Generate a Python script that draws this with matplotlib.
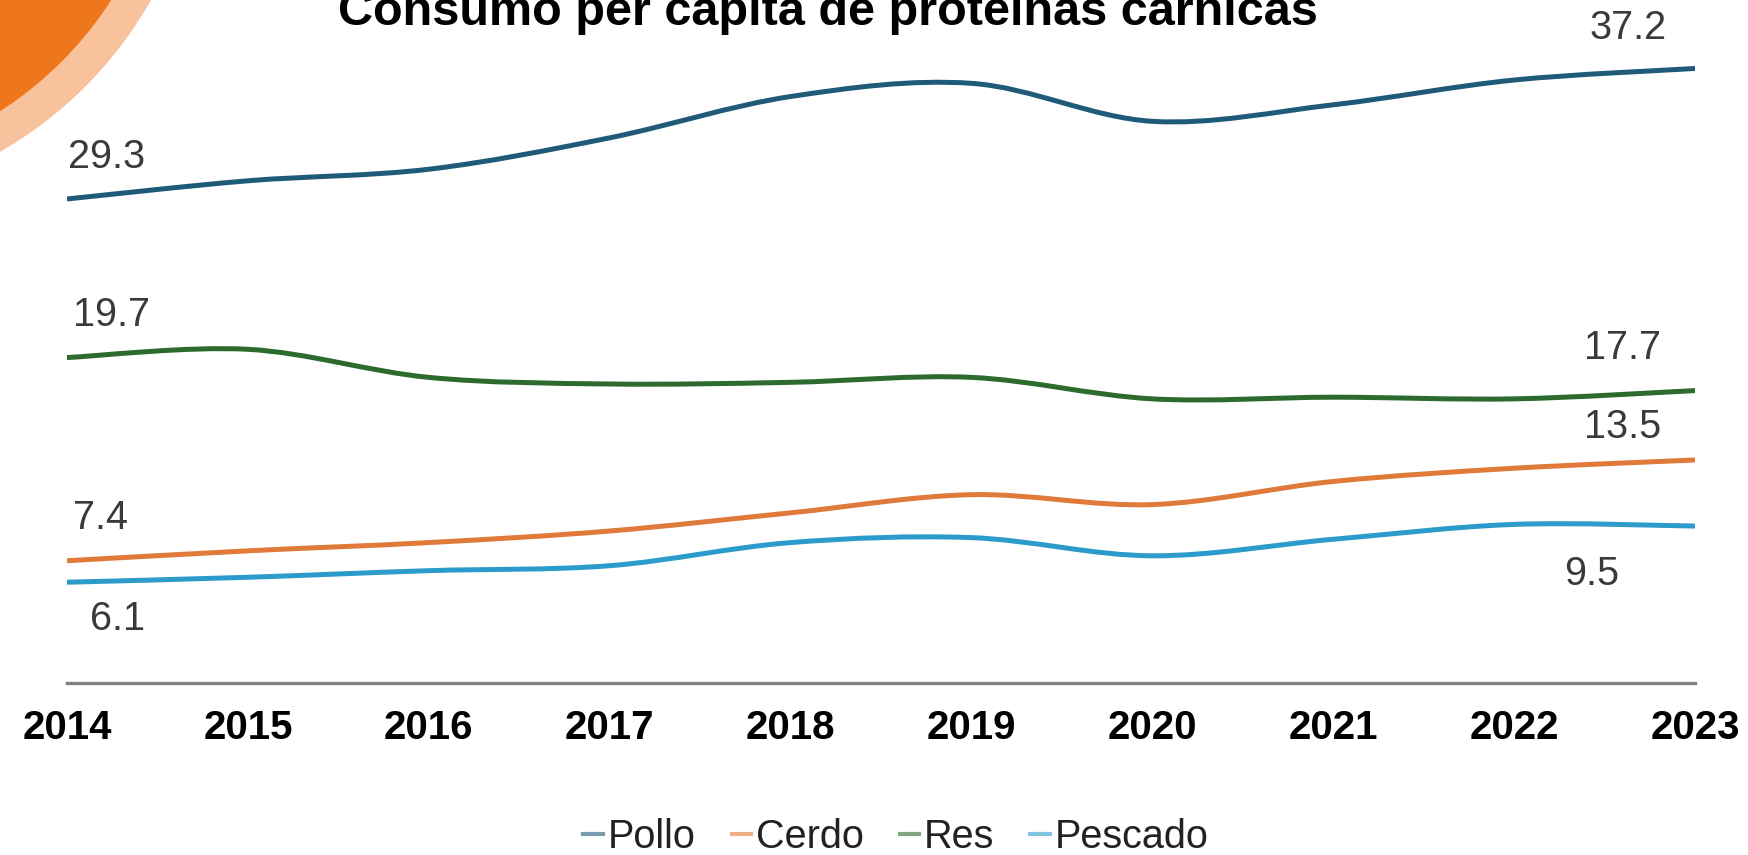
import numpy as np
import matplotlib
matplotlib.use('Agg')
import matplotlib.pyplot as plt
from matplotlib.path import Path
from matplotlib.patches import PathPatch, Ellipse
from matplotlib.lines import Line2D

#%% Data

years    = [2014, 2015, 2016, 2017, 2018, 2019, 2020, 2021, 2022, 2023]
pollo    = [29.3, 30.4, 31.1, 33.0, 35.5, 36.3, 34.0, 35.0, 36.5, 37.2]
cerdo    = [7.4, 8.0, 8.5, 9.2, 10.3, 11.4, 10.8, 12.2, 13.0, 13.5]
res      = [19.7, 20.2, 18.5, 18.1, 18.2, 18.5, 17.2, 17.3, 17.2, 17.7]
pescado  = [6.1, 6.4, 6.8, 7.1, 8.5, 8.8, 7.7, 8.7, 9.6, 9.5]

names    = ['Pollo', 'Cerdo', 'Res', 'Pescado']
series   = [pollo, cerdo, res, pescado]
colors   = ['#1F5A78', '#E07A3A', '#2C6A2E', '#2B9BCC']

title    = 'Consumo per capita de proteinas carnicas'

# label offsets in pixels (first point, last point)
offsets  = {'Pollo':   ((40, 42), (-67, 40)),
            'Cerdo':   ((34, 43), (-72, 33)),
            'Res':     ((45, 43), (-72, 43)),
            'Pescado': ((51, -37), (-103, -48))}

#%% Helpers

def smooth_path(x, y):
    # Excel-like smoothed line: cubic bezier through the points
    x = np.asarray(x, float)
    y = np.asarray(y, float)
    px = np.concatenate([[x[0]], x, [x[-1]]])
    py = np.concatenate([[y[0]], y, [y[-1]]])
    verts = [(x[0], y[0])]
    codes = [Path.MOVETO]
    for i in range(1, len(x)):
        c1 = (px[i] + (px[i + 1] - px[i - 1]) / 6, py[i] + (py[i + 1] - py[i - 1]) / 6)
        c2 = (px[i + 1] - (px[i + 2] - px[i]) / 6, py[i + 1] - (py[i + 2] - py[i]) / 6)
        verts += [c1, c2, (px[i + 1], py[i + 1])]
        codes += [Path.CURVE4] * 3
    return Path(verts, codes)

#%% Plot

plt.rcParams['font.family'] = ['Liberation Sans', 'DejaVu Sans']

W, H = 1749, 855
fig = plt.figure(figsize=(W / 100, H / 100), dpi=100)

# orange decoration top-left
fig.add_artist(Ellipse((-200 / W, 1 + 198 / H), 2 * 403 / W, 2 * 403 / H,
                       transform=fig.transFigure, color='#F7C29C', lw=0))
fig.add_artist(Ellipse((-200 / W, 1 + 200 / H), 2 * 370 / W, 2 * 370 / H,
                       transform=fig.transFigure, color='#EE761C', lw=0))

ax = fig.add_axes([67 / W, 1 - 683 / H, (1695 - 67) / W, 660.8 / H])
ax.set_facecolor('none')

for name, vals, col in zip(names, series, colors):
    ax.add_patch(PathPatch(smooth_path(years, vals), fill=False, edgecolor=col,
                           lw=3.6, capstyle='butt', joinstyle='round'))
    (dx0, dy0), (dx1, dy1) = offsets[name]
    ax.annotate('%.1f' % vals[0], (years[0], vals[0]), xytext=(dx0, dy0),
                textcoords='offset pixels', ha='center', va='center',
                fontsize=28.5, color='#3A3A3A')
    ax.annotate('%.1f' % vals[-1], (years[-1], vals[-1]), xytext=(dx1, dy1),
                textcoords='offset pixels', ha='center', va='center',
                fontsize=28.5, color='#3A3A3A')

ax.set_xlim(2014, 2023)
ax.set_ylim(0, 40)
ax.set_xticks(years)
ax.set_xticklabels([str(y) for y in years], fontsize=29, fontweight='bold')
ax.set_yticks([])
ax.tick_params(axis='x', length=0, pad=19)
for s in ['left', 'right', 'top']:
    ax.spines[s].set_visible(False)
ax.spines['bottom'].set_color('#808080')
ax.spines['bottom'].set_linewidth(2.4)

fig.text(828 / W, 1 - 25 / H, title, ha='center', va='baseline',
         fontsize=35, fontweight='bold', color='black')

handles = [Line2D([], [], color=c, lw=3.0, alpha=0.6) for c in colors]
fig.legend(handles, names, loc='center', bbox_to_anchor=(896 / W, 1 - 837 / H),
           ncol=4, frameon=False, fontsize=28.5, handlelength=0.5,
           handletextpad=0.12, columnspacing=0.9, labelcolor='#222222')

fig.savefig('out.png', dpi=100)
